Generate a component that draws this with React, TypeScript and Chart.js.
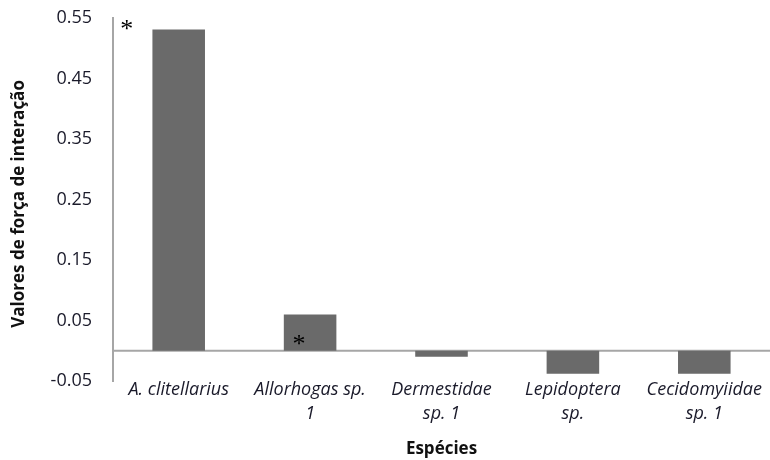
import { useEffect, useRef } from "react";
import { Chart, registerables } from "chart.js";

Chart.register(...registerables);

// Species (x categories), multi-line where the label wraps
const species: (string | string[])[] = [
  "A. clitellarius",
  ["Allorhogas sp.", "1"],
  ["Dermestidae", "sp. 1"],
  ["Lepidoptera", "sp."],
  ["Cecidomyiidae", "sp. 1"],
];

// Interaction strength values per species
const strength = [0.531, 0.06, -0.01, -0.038, -0.038];

// Y-axis tick values
const yTicks = [-0.05, 0.05, 0.15, 0.25, 0.35, 0.45, 0.55];

// Significance markers: which species are flagged
const significant = [true, true, false, false, false];

const FONT = "'Open Sans', Lato, sans-serif";

const zeroLine = {
  id: "zeroLine",
  beforeDatasetsDraw(chart: any) {
    const { ctx, chartArea, scales } = chart;
    const y = scales.y.getPixelForValue(0);
    ctx.save();
    ctx.strokeStyle = "#a6a6a6";
    ctx.lineWidth = 2;
    ctx.beginPath();
    ctx.moveTo(chartArea.left, y);
    ctx.lineTo(chartArea.right, y);
    ctx.stroke();
    ctx.restore();
  },
};

// Asterisks next to flagged bars: beside the top of a tall bar,
// inside the bar near its base for a short one
const starMarks = {
  id: "starMarks",
  afterDatasetsDraw(chart: any) {
    const { ctx, scales } = chart;
    ctx.save();
    ctx.font = "26px 'Liberation Serif', serif";
    ctx.fillStyle = "#000";
    ctx.textAlign = "center";
    ctx.textBaseline = "alphabetic";
    const m = ctx.measureText("*");
    const half = (m.actualBoundingBoxAscent - m.actualBoundingBoxDescent) / 2;
    significant.forEach((flag, i) => {
      if (!flag) return;
      const cx = scales.x.getPixelForValue(i);
      let x: number, y: number;
      if (strength[i] > 0.3) {
        x = cx - 52;
        y = scales.y.getPixelForValue(0.539);
      } else {
        x = cx - 11;
        y = scales.y.getPixelForValue(strength[i] * 0.3);
      }
      ctx.fillText("*", x, y + half);
    });
    ctx.restore();
  },
};

export default function App() {
  const ref = useRef<HTMLCanvasElement>(null);

  useEffect(() => {
    if (!ref.current) return;
    const chart = new Chart(ref.current, {
      type: "bar",
      data: {
        labels: species as any,
        datasets: [
          {
            data: strength,
            backgroundColor: "#6a6a6a",
            borderWidth: 0,
            barPercentage: 0.4,
            categoryPercentage: 1,
          },
        ],
      },
      options: {
        animation: false,
        responsive: true,
        maintainAspectRatio: false,
        layout: { padding: { left: 0, right: 0, top: 18, bottom: 0 } },
        plugins: {
          legend: { display: false },
          tooltip: { enabled: false },
        },
        scales: {
          x: {
            grid: { display: false, drawTicks: false },
            border: { display: false },
            ticks: {
              color: "#1a1a2a",
              padding: -3,
              maxRotation: 0,
              autoSkip: false,
              font: { family: FONT, size: 18, style: "italic", lineHeight: 1.33 },
            },
            title: {
              display: true,
              text: "Espécies",
              color: "#111",
              padding: { top: 0, bottom: 0 },
              font: { family: FONT, size: 17, weight: "bold", lineHeight: 1.25 },
            },
            afterFit: (s: any) => {
              s.height = 79;
              s.paddingLeft = 0;
              s.paddingRight = 0;
            },
          },
          y: {
            min: -0.05,
            max: 0.55,
            grid: { display: false, drawTicks: false },
            border: { display: true, color: "#a6a6a6", width: 2 },
            afterBuildTicks: (s: any) => {
              s.ticks = yTicks.map((v) => ({ value: v }));
            },
            ticks: {
              color: "#1a1a2a",
              padding: 21,
              font: { family: FONT, size: 18 },
              callback: (v: any) => Number(v).toFixed(2),
            },
            title: {
              display: true,
              text: "Valores de força de interação  ",
              color: "#111",
              padding: { top: 9, bottom: 0 },
              font: { family: FONT, size: 17, weight: "bold", lineHeight: 1.2 },
            },
            afterFit: (s: any) => {
              s.width = 113;
              s.paddingTop = 0;
              s.paddingBottom = 0;
            },
          },
        },
      },
      plugins: [zeroLine, starMarks],
    });
    return () => chart.destroy();
  }, []);

  return (
    <div style={{ position: "absolute", left: 0, top: 0, width: 770, height: 460, background: "#fff" }}>
      <canvas ref={ref} />
    </div>
  );
}
